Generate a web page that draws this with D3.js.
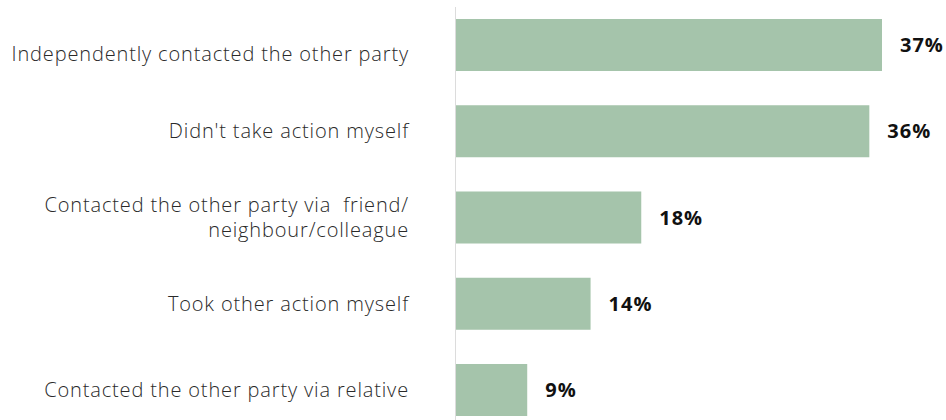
<!DOCTYPE html>
<html>
<head>
<meta charset="utf-8">
<script src="https://cdn.jsdelivr.net/npm/d3@7"></script>
<style>
  html, body { margin: 0; padding: 0; background: #fff; }
  svg { display: block; }
</style>
</head>
<body>
<svg id="chart" width="946" height="420"></svg>
<script>
const categories = [
  "Independently contacted the other party",
  "Didn't take action myself",
  "Contacted the other party via  friend/\nneighbour/colleague",
  "Took other action myself",
  "Contacted the other party via relative"
];
const values = [37, 36, 18, 14, 9];
const valueLabels = ["37%", "36%", "18%", "14%", "9%"];

const svg = d3.select("#chart");
const axisX = 455;

const x = d3.scaleLinear().domain([3.3, 37]).range([axisX, 882]);
const y = d3.scaleBand().domain(categories).range([19, 416]).paddingInner(0.397).paddingOuter(0);

svg.append("line")
  .attr("x1", axisX + 0.5).attr("x2", axisX + 0.5)
  .attr("y1", 7).attr("y2", 420)
  .attr("stroke", "#dcdcdc").attr("stroke-width", 1);

svg.selectAll("rect.bar")
  .data(values)
  .enter().append("rect")
  .attr("class", "bar")
  .attr("x", axisX + 1)
  .attr("y", (d, i) => y(categories[i]))
  .attr("width", d => x(d) - axisX - 1)
  .attr("height", y.bandwidth())
  .attr("fill", "#a5c4ab");

svg.selectAll("text.val")
  .data(values)
  .enter().append("text")
  .attr("class", "val")
  .attr("x", d => x(d) + 18)
  .attr("y", (d, i) => y(categories[i]) + y.bandwidth() / 2)
  .attr("dy", "0.36em")
  .attr("font-family", "'Open Sans', Lato, sans-serif")
  .attr("font-weight", 700)
  .attr("font-size", 20)
  .attr("letter-spacing", 1)
  .attr("fill", "#111")
  .text((d, i) => valueLabels[i]);

const labelG = svg.selectAll("text.cat")
  .data(categories)
  .enter().append("text")
  .attr("class", "cat")
  .attr("text-anchor", "end")
  .attr("font-family", "'Open Sans', Lato, sans-serif")
  .attr("font-weight", 300)
  .attr("font-size", 20)
  .attr("letter-spacing", 0.85)
  .attr("fill", "#2a2a2a");

labelG.each(function(d, i) {
  const lines = d.split("\n");
  const cy = y(d) + y.bandwidth() / 2 + (i === 0 ? 9 : 0);
  const lh = 25;
  const t = d3.select(this);
  lines.forEach((ln, j) => {
    t.append("tspan")
      .attr("x", 409)
      .attr("y", cy + (j - (lines.length - 1) / 2) * lh)
      .attr("dy", "0.36em")
      .style("white-space", "pre")
      .text(ln);
  });
});
</script>
</body>
</html>
